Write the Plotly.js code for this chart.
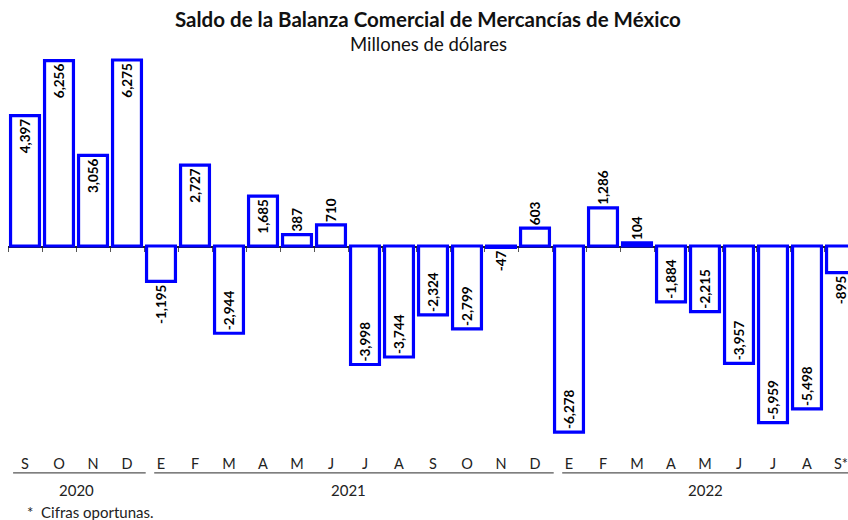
<!DOCTYPE html>
<html>
<head>
<meta charset="utf-8">
<script src="https://cdn.plot.ly/plotly-3.0.1.min.js"></script>
<style>html,body{margin:0;padding:0;background:#fff;}#chart{width:848px;height:520px;}</style>
</head>
<body>
<div id="chart"></div>
<script>
// Data
const months = ["S","O","N","D","E","F","M","A","M","J","J","A","S","O","N","D","E","F","M","A","M","J","J","A","S*"];
const values = [4397, 6256, 3056, 6275, -1195, 2727, -2944, 1685, 387, 710, -3998, -3744, -2324, -2799, -47, 603, -6278, 1286, 104, -1884, -2215, -3957, -5959, -5498, -895];
const years = ["2020", "2021", "2022"];
const yearStart = [0, 4, 16];
const yearEnd = [3, 15, 24];

const idx = months.map((m, i) => i);
const fmt = v => (v < 0 ? "-" : "") + Math.abs(v).toLocaleString("en-US");
const FONT = "Lato, 'Open Sans', sans-serif";
const labelFont = {family: FONT, size: 13.5, color: "#000", weight: "bold"};

const traces = [
  {
    type: "bar",
    x: idx,
    y: values,
    text: values.map(fmt),
    textposition: values.map(v => Math.abs(v) > 1500 ? "inside" : "outside"),
    textangle: -90,
    insidetextanchor: "end",
    constraintext: "none",
    cliponaxis: true,
    textfont: labelFont,
    insidetextfont: labelFont,
    outsidetextfont: labelFont,
    marker: {color: "#ffffff", line: {color: "#0000ff", width: 3.2}},
    hoverinfo: "skip",
    showlegend: false
  },
  {
    type: "scatter",
    x: idx,
    y: values,
    xaxis: "x2",
    mode: "none",
    hoverinfo: "skip",
    showlegend: false
  }
];

const annotations = [
  {text: "<b>Saldo de la Balanza Comercial de Mercancías de México</b>", xref: "paper", yref: "paper", x: 0.5, y: 1.088, xanchor: "center", yanchor: "middle", showarrow: false, font: {family: FONT, size: 20.5, color: "#111"}},
  {text: "Millones de dólares", xref: "paper", yref: "paper", x: 0.5, y: 1.023, xanchor: "center", yanchor: "middle", showarrow: false, font: {family: FONT, size: 18.5, color: "#111"}},
  {text: "*  Cifras oportunas.", xref: "paper", yref: "paper", x: 0.02, y: -0.189, xanchor: "left", yanchor: "middle", showarrow: false, font: {family: FONT, size: 15, color: "#222"}}
];
const shapes = [];
years.forEach((y, i) => {
  annotations.push({text: y, xref: "x", yref: "paper", x: (yearStart[i] + yearEnd[i]) / 2, y: -0.132, xanchor: "center", yanchor: "middle", showarrow: false, font: {family: FONT, size: 15, color: "#222"}});
  shapes.push({type: "line", xref: "x", yref: "paper", x0: yearStart[i] - 0.2 - (i === 0 ? 0.15 : 0), x1: yearEnd[i] + 0.55, y0: -0.088, y1: -0.088, line: {color: "#555", width: 1.3}});
});

const layout = {
  width: 848, height: 520,
  margin: {l: 8, r: 0, t: 53, b: 81},
  paper_bgcolor: "#fff", plot_bgcolor: "#fff",
  bargap: 0.15,
  font: {family: FONT},
  xaxis: {
    type: "linear", range: [-0.5, 24.206], tickmode: "array", tickvals: idx, ticktext: months,
    showgrid: false, zeroline: false, showline: false, ticks: "", ticklabelstandoff: 14,
    ticklabeloverflow: "allow",
    tickfont: {family: FONT, size: 14.5, color: "#222"}, fixedrange: true
  },
  xaxis2: {
    type: "linear", matches: "x", overlaying: "x", anchor: "free", position: 0.5, side: "bottom",
    showline: true, linecolor: "#222", linewidth: 1.5, layer: "below traces",
    ticks: "outside", ticklen: 4, tickcolor: "#555", tickwidth: 1, tickmode: "linear", tick0: -0.5, dtick: 1,
    showticklabels: false, showgrid: false, zeroline: false
  },
  yaxis: {range: [-6511, 6511], visible: false, showgrid: false, zeroline: false, fixedrange: true},
  annotations: annotations,
  shapes: shapes
};

Plotly.newPlot("chart", traces, layout, {displayModeBar: false, staticPlot: true});
</script>
</body>
</html>
